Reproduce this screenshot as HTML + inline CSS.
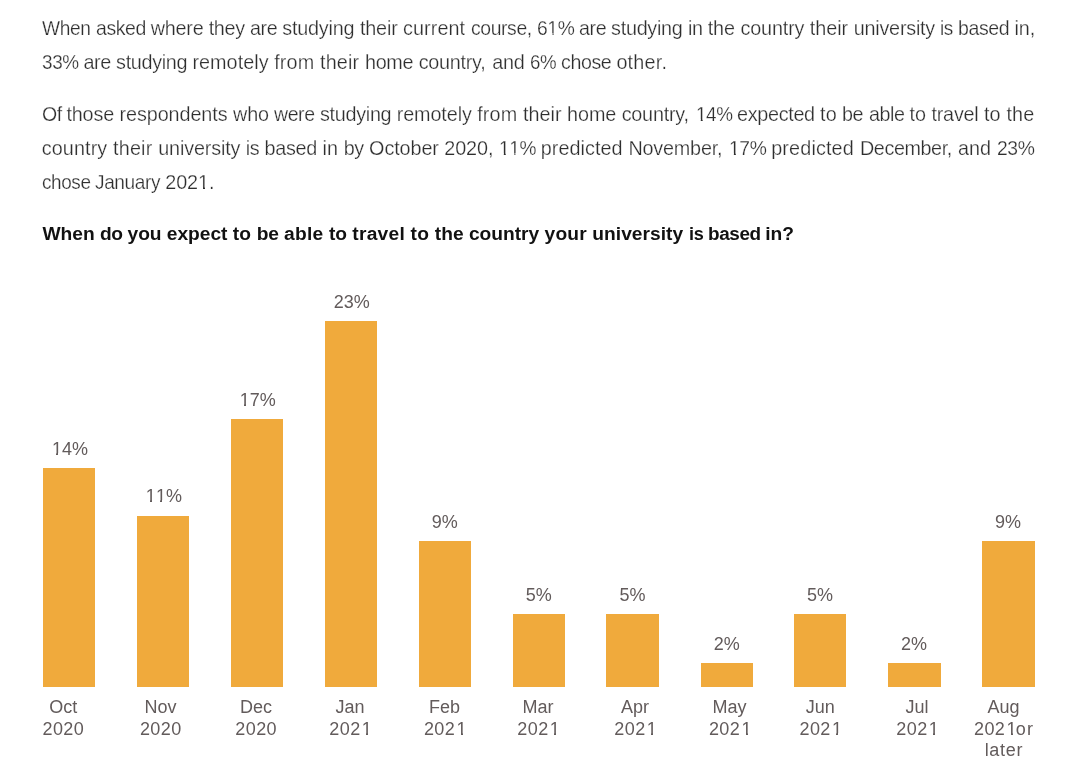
<!DOCTYPE html>
<html><head><meta charset="utf-8"><title>Survey chart</title>
<style>
html,body{margin:0;padding:0;background:#fff;}
body{width:1080px;height:770px;position:relative;overflow:hidden;font-family:"Liberation Sans",sans-serif;}
#page{position:absolute;left:0;top:0;width:1080px;height:770px;will-change:transform;}
.l{position:absolute;left:0;white-space:nowrap;font-size:19.8px;line-height:35px;height:35px;color:#2e2e2e;-webkit-text-stroke:0.25px #fff;}
.l span{position:absolute;top:0;transform-origin:0 0}
.h{font-weight:bold;color:#111;-webkit-text-stroke:0;font-size:19.2px}
.o{position:relative;display:inline-block;font-style:normal}
.o::before,.o::after{content:"";position:absolute;background:#fff;height:2.6px;top:14.9px}
.o::before{left:-0.5px;width:4.8px}
.o::after{left:6.3px;width:4.2px}
.l .o::before,.l .o::after{height:2.8px;top:21.8px}
.l .o::before{left:-0.6px;width:5.55px}
.l .o::after{left:6.75px;width:4.8px}
.y{letter-spacing:0.4px;margin-right:-0.4px}
.y .o{margin-left:1.2px;margin-right:-1.2px}
.bar{position:absolute;background:#f0aa3c;}
.v,.a{position:absolute;width:120px;text-align:center;font-size:18px;line-height:22px;color:#625b5b;white-space:nowrap;}
</style></head><body><div id="page">

<div class="l" style="top:11px"><span style="left:42.4px;letter-spacing:-0.40px;transform:scaleX(0.968)">When</span><span style="left:95.9px;letter-spacing:-0.40px;transform:scaleX(0.983)">asked</span><span style="left:150.8px;letter-spacing:-0.26px">where</span><span style="left:208.7px;letter-spacing:-0.33px">they</span><span style="left:250.0px;letter-spacing:-0.40px;transform:scaleX(0.993)">are</span><span style="left:282.2px;letter-spacing:-0.18px">studying</span><span style="left:359.9px;letter-spacing:-0.14px">their</span><span style="left:403.1px;letter-spacing:0.06px">current</span><span style="left:470.7px;letter-spacing:-0.40px;transform:scaleX(0.979)">course,</span><span style="left:536.5px;letter-spacing:-0.40px;transform:scaleX(0.973)">6<i class="o">1</i>%</span><span style="left:578.9px;letter-spacing:-0.40px;transform:scaleX(0.993)">are</span><span style="left:611.1px;letter-spacing:-0.28px">studying</span><span style="left:687.9px;letter-spacing:-0.36px">in</span><span style="left:707.7px;letter-spacing:-0.07px">the</span><span style="left:740.5px;letter-spacing:-0.15px">country</span><span style="left:809.7px;letter-spacing:-0.00px">their</span><span style="left:853.7px;letter-spacing:-0.22px">university</span><span style="left:940.4px;letter-spacing:-0.40px;transform:scaleX(0.960)">is</span><span style="left:958.2px;letter-spacing:-0.40px;transform:scaleX(0.986)">based</span><span style="left:1014.5px;letter-spacing:-0.07px">in,</span></div>
<div class="l" style="top:45px"><span style="left:41.7px;letter-spacing:-0.40px;transform:scaleX(0.956)">33%</span><span style="left:83.4px;letter-spacing:-0.33px">are</span><span style="left:116.1px;letter-spacing:-0.33px">studying</span><span style="left:192.4px;letter-spacing:0.05px">remotely</span><span style="left:274.2px;letter-spacing:0.14px">from</span><span style="left:320.0px;letter-spacing:0.15px">their</span><span style="left:364.9px;letter-spacing:-0.26px">home</span><span style="left:418.7px;letter-spacing:-0.27px">country,</span><span style="left:492.2px;letter-spacing:-0.23px">and</span><span style="left:529.8px;letter-spacing:-0.40px;transform:scaleX(0.944)">6%</span><span style="left:560.9px;letter-spacing:-0.40px;transform:scaleX(0.992)">chose</span><span style="left:616.4px;letter-spacing:0.20px">other.</span></div>
<div class="l" style="top:97px"><span style="left:41.6px;letter-spacing:-0.40px;transform:scaleX(0.986)">Of</span><span style="left:66.4px;letter-spacing:-0.14px">those</span><span style="left:119.5px;letter-spacing:-0.08px">respondents</span><span style="left:233.0px;letter-spacing:-0.16px">who</span><span style="left:274.2px;letter-spacing:-0.40px;transform:scaleX(0.985)">were</span><span style="left:319.9px;letter-spacing:-0.28px">studying</span><span style="left:396.7px;letter-spacing:-0.10px">remotely</span><span style="left:477.2px;letter-spacing:0.14px">from</span><span style="left:523.0px;letter-spacing:0.02px">their</span><span style="left:567.1px;letter-spacing:-0.10px">home</span><span style="left:621.7px;letter-spacing:-0.23px">country,</span><span style="left:695.5px;letter-spacing:-0.40px;transform:scaleX(0.953)"><i class="o">1</i>4%</span><span style="left:737.0px;letter-spacing:-0.31px">expected</span><span style="left:820.0px;letter-spacing:0.14px">to</span><span style="left:842.4px;letter-spacing:-0.40px;transform:scaleX(0.997)">be</span><span style="left:868.7px;letter-spacing:-0.40px;transform:scaleX(0.995)">able</span><span style="left:909.4px;letter-spacing:-0.00px">to</span><span style="left:931.4px;letter-spacing:-0.20px">travel</span><span style="left:983.9px;letter-spacing:0.16px">to</span><span style="left:1006.4px;letter-spacing:0.12px">the</span></div>
<div class="l" style="top:131px"><span style="left:41.7px;letter-spacing:0.11px">country</span><span style="left:113.0px;letter-spacing:0.20px">their</span><span style="left:158.2px;letter-spacing:-0.15px">university</span><span style="left:245.7px;letter-spacing:-0.32px">is</span><span style="left:264.5px;letter-spacing:-0.27px">based</span><span style="left:322.4px;letter-spacing:0.15px">in</span><span style="left:343.7px;letter-spacing:-0.36px">by</span><span style="left:369.1px;letter-spacing:-0.09px">October</span><span style="left:444.3px;letter-spacing:-0.09px">2020,</span><span style="left:498.8px;letter-spacing:-0.40px;transform:scaleX(0.963)"><i class="o">1</i><i class="o">1</i>%</span><span style="left:540.7px;letter-spacing:0.07px">predicted</span><span style="left:628.4px;letter-spacing:-0.19px">November,</span><span style="left:728.8px;letter-spacing:-0.40px;transform:scaleX(0.975)"><i class="o">1</i>7%</span><span style="left:771.2px;letter-spacing:0.15px">predicted</span><span style="left:859.7px;letter-spacing:-0.40px;transform:scaleX(0.998)">December,</span><span style="left:957.9px;letter-spacing:0.03px">and</span><span style="left:996.5px;letter-spacing:-0.40px;transform:scaleX(0.978)">23%</span></div>
<div class="l" style="top:165px"><span style="left:41.7px;letter-spacing:-0.40px;transform:scaleX(0.957)">chose</span><span style="left:95.2px;letter-spacing:-0.40px;transform:scaleX(0.964)">January</span><span style="left:165.3px;letter-spacing:-0.11px">202<i class="o">1</i>.</span></div>
<div class="l h" style="top:216px"><span style="left:42.5px;letter-spacing:-0.01px">When</span><span style="left:100.0px;letter-spacing:-0.38px">do</span><span style="left:127.6px;letter-spacing:-0.09px">you</span><span style="left:166.8px;letter-spacing:-0.02px">expect</span><span style="left:232.8px;letter-spacing:0.17px">to</span><span style="left:256.7px;letter-spacing:-0.11px">be</span><span style="left:284.1px;letter-spacing:0.22px">able</span><span style="left:329.0px;letter-spacing:-0.05px">to</span><span style="left:352.3px;letter-spacing:0.25px">travel</span><span style="left:410.6px;letter-spacing:0.25px">to</span><span style="left:434.8px;letter-spacing:0.01px">the</span><span style="left:468.9px;letter-spacing:-0.02px">country</span><span style="left:544.6px;letter-spacing:0.16px">your</span><span style="left:592.3px;letter-spacing:0.03px">university</span><span style="left:688.7px;letter-spacing:-0.40px;transform:scaleX(0.942)">is</span><span style="left:707.6px;letter-spacing:-0.40px;transform:scaleX(0.985)">based</span><span style="left:765.2px;letter-spacing:-0.05px">in?</span></div>
<div class="bar" style="left:43.0px;top:468.3px;width:52.3px;height:218.5px"></div>
<div class="v" style="left:10.0px;top:438px"><i class="o">1</i>4%</div>
<div class="a" style="left:3.2px;top:696px">Oct<br><span class="y">2020</span></div>
<div class="bar" style="left:137.0px;top:515.5px;width:52.2px;height:171.3px"></div>
<div class="v" style="left:103.9px;top:485px"><i class="o">1</i><i class="o">1</i>%</div>
<div class="a" style="left:100.6px;top:696px">Nov<br><span class="y">2020</span></div>
<div class="bar" style="left:230.7px;top:419.3px;width:52.3px;height:267.5px"></div>
<div class="v" style="left:197.7px;top:389px"><i class="o">1</i>7%</div>
<div class="a" style="left:196.0px;top:696px">Dec<br><span class="y">2020</span></div>
<div class="bar" style="left:324.5px;top:320.7px;width:52.7px;height:366.1px"></div>
<div class="v" style="left:291.7px;top:291px">23%</div>
<div class="a" style="left:290.0px;top:696px">Jan<br><span class="y">202<i class="o">1</i></span></div>
<div class="bar" style="left:418.8px;top:540.8px;width:52.2px;height:146.0px"></div>
<div class="v" style="left:384.7px;top:511px">9%</div>
<div class="a" style="left:384.6px;top:696px">Feb<br><span class="y">202<i class="o">1</i></span></div>
<div class="bar" style="left:512.7px;top:613.8px;width:52.3px;height:73.0px"></div>
<div class="v" style="left:478.7px;top:584px">5%</div>
<div class="a" style="left:478.0px;top:696px">Mar<br><span class="y">202<i class="o">1</i></span></div>
<div class="bar" style="left:606.3px;top:613.8px;width:52.9px;height:73.0px"></div>
<div class="v" style="left:572.5px;top:584px">5%</div>
<div class="a" style="left:575.0px;top:696px">Apr<br><span class="y">202<i class="o">1</i></span></div>
<div class="bar" style="left:700.8px;top:662.9px;width:52.2px;height:23.9px"></div>
<div class="v" style="left:666.7px;top:633px">2%</div>
<div class="a" style="left:669.6px;top:696px">May<br><span class="y">202<i class="o">1</i></span></div>
<div class="bar" style="left:794.2px;top:613.7px;width:52.1px;height:73.1px"></div>
<div class="v" style="left:760.0px;top:584px">5%</div>
<div class="a" style="left:760.2px;top:696px">Jun<br><span class="y">202<i class="o">1</i></span></div>
<div class="bar" style="left:887.8px;top:662.9px;width:53.0px;height:23.9px"></div>
<div class="v" style="left:854.1px;top:633px">2%</div>
<div class="a" style="left:857.0px;top:696px">Jul<br><span class="y">202<i class="o">1</i></span></div>
<div class="bar" style="left:982.0px;top:540.8px;width:52.5px;height:146.0px"></div>
<div class="v" style="left:948.0px;top:511px">9%</div>
<div class="a" style="left:943.6px;top:696px">Aug<br><span class="y">202<i class="o">1</i></span><span style="margin-left:0.5px;letter-spacing:1.3px;margin-right:-1.3px">or</span><br><span style="letter-spacing:0.7px;margin-right:-0.7px;position:relative;top:-1px">later</span></div>
</div></body></html>
